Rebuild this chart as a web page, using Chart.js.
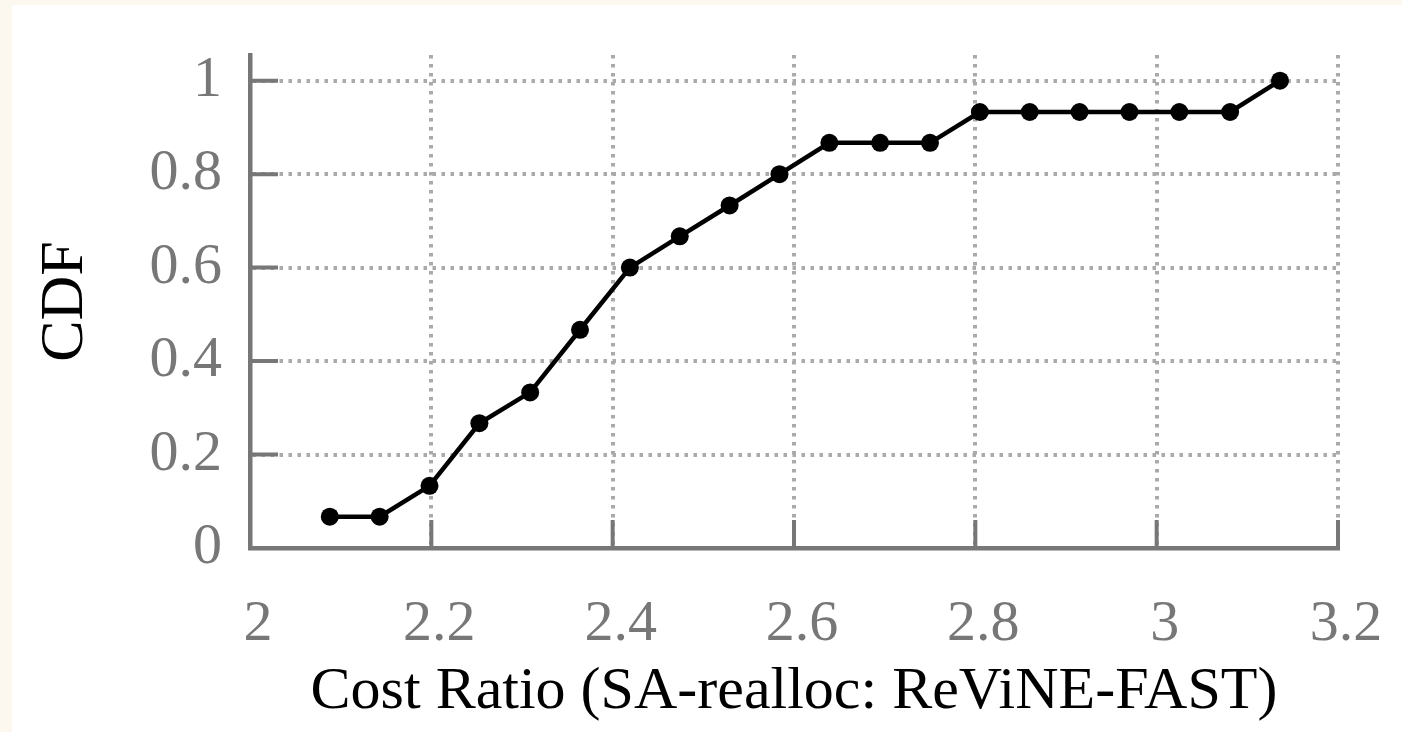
<!DOCTYPE html>
<html>
<head>
<meta charset="utf-8">
<script src="https://cdn.jsdelivr.net/npm/chart.js@4/dist/chart.umd.min.js"></script>
<style>
  html, body { margin: 0; padding: 0; background: #fcf8f0; }
  #wrap { position: absolute; left: 12px; top: 5px; width: 1390px; height: 727px; background: #fff; }
</style>
</head>
<body>
<div id="wrap"><canvas id="myChart" width="1390" height="727"></canvas></div>
<script>
// cost ratio (x) and CDF (y)
var ratio = [2.088, 2.143, 2.198, 2.253, 2.309, 2.364, 2.419, 2.474, 2.529, 2.584,
             2.639, 2.695, 2.750, 2.805, 2.860, 2.915, 2.970, 3.025, 3.081, 3.136];
var cdf = [0.067, 0.067, 0.133, 0.267, 0.333, 0.467, 0.600, 0.667, 0.733, 0.800,
           0.867, 0.867, 0.867, 0.933, 0.933, 0.933, 0.933, 0.933, 0.933, 1.000];

var xTicks = [2, 2.2, 2.4, 2.6, 2.8, 3, 3.2];
var xTickLabels = ['2', '2.2', '2.4', '2.6', '2.8', '3', '3.2'];
var yTicks = [0, 0.2, 0.4, 0.6, 0.8, 1];
var yTickLabels = ['0', '0.2', '0.4', '0.6', '0.8', '1'];

var points = [];
for (var i = 0; i < ratio.length; i++) {
	points.push({x: ratio[i], y: cdf[i]});
}

var axisGray = '#777777';
var gridGray = '#aaaaaa';

// ticks pointing into the plot, like gnuplot
var innerTicks = {
	id: 'innerTicks',
	beforeDatasetsDraw: function(chart) {
		var ctx = chart.ctx;
		var area = chart.chartArea;
		var xs = chart.scales.x, ys = chart.scales.y;
		ctx.save();
		ctx.strokeStyle = axisGray;
		ctx.lineWidth = 4;
		ctx.lineCap = 'butt';
		ctx.beginPath();
		yTicks.forEach(function(v){
			if (v === 0) return;
			var py = ys.getPixelForValue(v);
			ctx.moveTo(area.left, py);
			ctx.lineTo(area.left + 28, py);
		});
		xTicks.forEach(function(v){
			if (v === 2) return;
			var px = xs.getPixelForValue(v);
			ctx.moveTo(px, area.bottom);
			ctx.lineTo(px, area.bottom - 28);
		});
		ctx.stroke();
		ctx.restore();
	}
};

var ctx = document.getElementById('myChart').getContext('2d');
var chart = new Chart(ctx, {
	type: 'scatter',
	data: {
		datasets: [{
			data: points,
			showLine: true,
			borderColor: '#000',
			backgroundColor: '#000',
			borderWidth: 4.5,
			pointRadius: 9,
			pointBorderWidth: 0,
			pointHoverRadius: 9
		}]
	},
	options: {
		responsive: false,
		animation: false,
		events: [],
		layout: { padding: { top: 50, right: 64, left: 0, bottom: 0 } },
		plugins: { legend: { display: false }, tooltip: { enabled: false } },
		scales: {
			x: {
				type: 'linear',
				min: 2,
				max: 3.2,
				afterBuildTicks: function(scale){ scale.ticks = xTicks.map(function(v){ return {value: v}; }); },
				afterFit: function(scale){ scale.height = 184; },
				grid: {
					color: gridGray,
					lineWidth: 4,
					drawTicks: true,
					tickLength: 42,
					tickColor: 'rgba(0,0,0,0)'
				},
				border: { display: true, color: axisGray, width: 4.5, dash: [3.5, 5.5] },
				ticks: {
					color: axisGray,
					padding: 0,
					labelOffset: 8,
					maxRotation: 0,
					font: { family: 'Liberation Serif', size: 58 },
					callback: function(v, idx){ return xTickLabels[idx]; }
				},
				title: {
					display: true,
					text: 'Cost Ratio (SA-realloc: ReViNE-FAST)',
					color: '#000',
					font: { family: 'Liberation Serif', size: 60 },
					padding: { top: 0, bottom: 4 }
				}
			},
			y: {
				type: 'linear',
				min: 0,
				max: 1.055,
				afterBuildTicks: function(scale){ scale.ticks = yTicks.map(function(v){ return {value: v}; }); },
				afterFit: function(scale){ scale.width = 238; },
				grid: {
					color: gridGray,
					lineWidth: 4,
					drawTicks: true,
					tickLength: 28,
					tickColor: 'rgba(0,0,0,0)'
				},
				border: { display: true, color: axisGray, width: 4.5, dash: [3.5, 5.5] },
				ticks: {
					color: axisGray,
					padding: 0,
					font: { family: 'Liberation Serif', size: 58 },
					callback: function(v, idx){ return yTickLabels[idx]; }
				},
				title: {
					display: true,
					text: 'CDF',
					color: '#000',
					font: { family: 'Liberation Serif', size: 62 },
					padding: { top: 17, bottom: 0 }
				}
			}
		}
	},
	plugins: [innerTicks]
});
</script>
</body>
</html>
